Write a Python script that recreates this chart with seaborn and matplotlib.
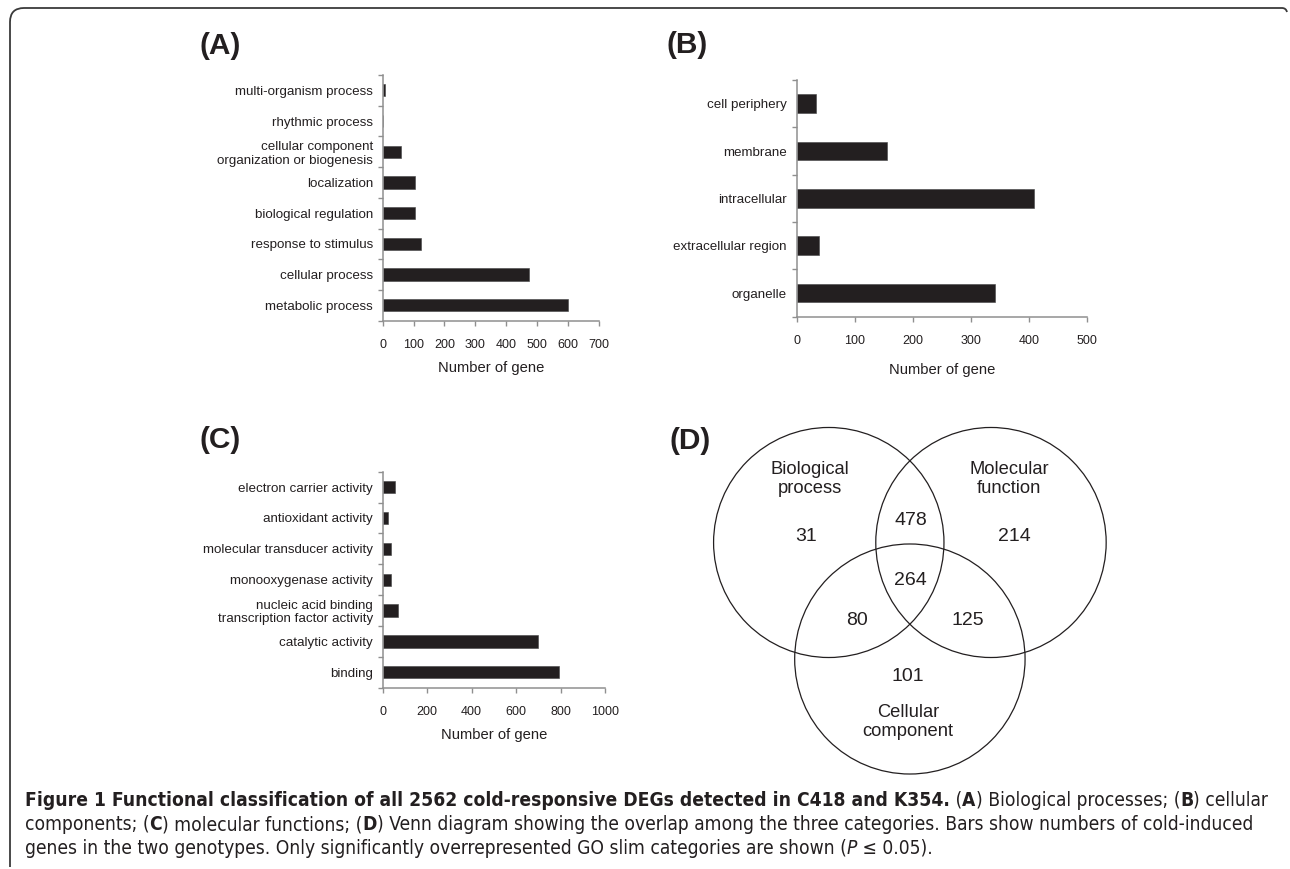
import numpy as np
import pandas as pd
import matplotlib
matplotlib.use("Agg")
import matplotlib.pyplot as plt
import seaborn as sns
from matplotlib import font_manager
from matplotlib.patches import Circle, PathPatch
from matplotlib.path import Path

# ---------------- data ----------------
bp_categories = ["multi-organism process", "rhythmic process",
                 "cellular component\norganization or biogenesis", "localization",
                 "biological regulation", "response to stimulus",
                 "cellular process", "metabolic process"]
bp_counts = [8, 2, 58, 105, 105, 125, 475, 600]
bp_xticks = [0, 100, 200, 300, 400, 500, 600, 700]

cc_categories = ["cell periphery", "membrane", "intracellular",
                 "extracellular region", "organelle"]
cc_counts = [33, 156, 408, 38, 342]
cc_xticks = [0, 100, 200, 300, 400, 500]

mf_categories = ["electron carrier activity", "antioxidant activity",
                 "molecular transducer activity", "monooxygenase activity",
                 "nucleic acid binding\ntranscription factor activity",
                 "catalytic activity", "binding"]
mf_counts = [55, 24, 37, 37, 67, 700, 793]
mf_xticks = [0, 200, 400, 600, 800, 1000]

venn_set_names = ["Biological\nprocess", "Molecular\nfunction", "Cellular\ncomponent"]
venn_regions = ["BP", "BP&MF", "MF", "BP&MF&CC", "BP&CC", "MF&CC", "CC"]
venn_counts = [31, 478, 214, 264, 80, 125, 101]

xlabel_text = "Number of gene"
panel_labels = ["(A)", "(B)", "(C)", "(D)"]

# ---------------- style ----------------
sns.set_style("white")
plt.rcParams["font.family"] = ["Liberation Sans", "DejaVu Sans"]

W, H = 1290, 869
DARK = "#231f20"
GRAY = "#8f8f8f"
fig = plt.figure(figsize=(W / 100, H / 100), dpi=100)
fig.patch.set_facecolor("white")


def px_rect(left, top, right, bottom):
    return [left / W, 1 - bottom / H, (right - left) / W, (bottom - top) / H]


def bar_panel(rect, cats, vals, xticks, xlabel_pad):
    ax = fig.add_axes(rect)
    df = pd.DataFrame({"category": cats, "count": vals})
    sns.barplot(data=df, x="count", y="category", orient="h", color=DARK,
                saturation=1, width=0.4, edgecolor="#444444", linewidth=0.4, ax=ax)
    n = len(cats)
    ax.set_xlim(xticks[0], xticks[-1])
    ax.set_ylim(n - 0.5, -0.5)
    ax.set_xticks(xticks)
    ax.set_xticklabels([str(t) for t in xticks])
    ax.set_yticks(np.arange(n + 1) - 0.5, minor=True)
    for s in ["top", "right"]:
        ax.spines[s].set_visible(False)
    for s in ["left", "bottom"]:
        ax.spines[s].set_color(GRAY)
        ax.spines[s].set_linewidth(1.1)
    ax.tick_params(axis="x", which="major", direction="out", length=3.5, width=1,
                   color=GRAY, pad=10, labelsize=9, labelcolor=DARK, bottom=True)
    ax.tick_params(axis="y", which="major", length=0, pad=7, labelsize=9.6,
                   labelcolor=DARK, left=True)
    ax.tick_params(axis="y", which="minor", direction="out", length=3.5, width=1,
                   color=GRAY, left=True)
    for lab in ax.get_yticklabels():
        lab.set_linespacing(1.15)
    ax.set_ylabel("")
    ax.set_xlabel(xlabel_text, fontsize=10.6, color=DARK, labelpad=xlabel_pad)
    ax.set_facecolor("none")
    ax.grid(False)
    return ax


axA = bar_panel(px_rect(382.7, 75, 599, 320.7), bp_categories, bp_counts, bp_xticks, 7)
axB = bar_panel(px_rect(796.7, 80, 1087, 316.7), cc_categories, cc_counts, cc_xticks, 11)
axC = bar_panel(px_rect(382.7, 471.7, 605, 687.7), mf_categories, mf_counts, mf_xticks, 7)

# ---------------- Venn diagram ----------------
# axes in radius units (1 unit = 115 px)
axV = fig.add_axes(px_rect(691, 420, 1128.75, 790))
axV.set_xlim(-1.9, 1.9)
axV.set_ylim(-2.152, 1.065)
axV.axis("off")
centers = [(-0.704, 0.0), (0.704, 0.0), (0.0, -1.013)]
for c in centers:
    axV.add_patch(Circle(c, 1.0, fill=False, edgecolor=DARK, linewidth=0.9))
set_pos = [(-0.867, 0.552), (0.863, 0.552), (-0.015, -1.561)]
for name, (x, y) in zip(venn_set_names, set_pos):
    axV.text(x, y, name, ha="center", va="center", fontsize=13.2, color=DARK,
             linespacing=1.15)
region_pos = {"BP": (-0.905, 0.05), "BP&MF": (0.008, 0.19), "MF": (0.907, 0.05),
              "BP&MF&CC": (0.008, -0.332), "BP&CC": (-0.459, -0.68),
              "MF&CC": (0.504, -0.68), "CC": (-0.015, -1.161)}
for r, v in zip(venn_regions, venn_counts):
    x, y = region_pos[r]
    axV.text(x, y, str(v), ha="center", va="center", fontsize=14, color=DARK)

# ---------------- panel letters ----------------
for lab, (x, y) in zip(panel_labels, [(220, 46), (687, 45), (220, 440), (690, 441)]):
    fig.text(x / W, 1 - y / H, lab, ha="center", va="center", fontsize=21.5,
             fontweight="bold", color=DARK)

# ---------------- frame ----------------
axF = fig.add_axes([0, 0, 1, 1], zorder=-5)
axF.set_xlim(0, W)
axF.set_ylim(H, 0)
axF.axis("off")
verts = [(10, 867), (10, 22), (10, 8), (24, 8), (1282, 8), (1286, 8), (1287, 12)]
codes = [Path.MOVETO, Path.LINETO, Path.CURVE3, Path.CURVE3, Path.LINETO,
         Path.CURVE3, Path.CURVE3]
axF.add_patch(PathPatch(Path(verts, codes), fill=False, edgecolor="#3a3a3a",
                        linewidth=1.3))

# ---------------- caption ----------------
names = {f.name for f in font_manager.fontManager.ttflist}
if "Liberation Sans Narrow" in names:
    cap_kw = dict(family=["Liberation Sans Narrow", "DejaVu Sans"])
else:
    cap_kw = dict(family=["DejaVu Sans"], fontstretch="condensed")

cap_lines = [
    [("Figure 1 Functional classification of all 2562 cold-responsive DEGs detected in C418 and K354.", "bold", "normal"),
     (" (", "normal", "normal"), ("A", "bold", "normal"), (") Biological processes; (", "normal", "normal"),
     ("B", "bold", "normal"), (") cellular", "normal", "normal")],
    [("components; (", "normal", "normal"), ("C", "bold", "normal"),
     (") molecular functions; (", "normal", "normal"), ("D", "bold", "normal"),
     (") Venn diagram showing the overlap among the three categories. Bars show numbers of cold-induced", "normal", "normal")],
    [("genes in the two genotypes. Only significantly overrepresented GO slim categories are shown (", "normal", "normal"),
     ("P", "normal", "italic"), (" \u2264 0.05).", "normal", "normal")],
]
cap_y = [800, 825, 848]
renderer = fig.canvas.get_renderer()


def seg_width(txt, weight, style, size):
    t1 = fig.text(0, 0, "|" + txt + "|", fontsize=size, fontweight=weight,
                  fontstyle=style, **cap_kw)
    t2 = fig.text(0, 0, "||", fontsize=size, fontweight=weight, fontstyle=style, **cap_kw)
    w = t1.get_window_extent(renderer).width - t2.get_window_extent(renderer).width
    t1.remove()
    t2.remove()
    return w


base = 10.0
w1 = sum(seg_width(t, wt, st, base) for t, wt, st in cap_lines[0])
cap_size = base * (1262 - 25) / w1
for line, y in zip(cap_lines, cap_y):
    x = 25
    for t, wt, st in line:
        fig.text(x / W, 1 - y / H, t, fontsize=cap_size, fontweight=wt, fontstyle=st,
                 color=DARK, ha="left", va="center", **cap_kw)
        x += seg_width(t, wt, st, cap_size)

fig.savefig("out.png", dpi=100, facecolor="white")
